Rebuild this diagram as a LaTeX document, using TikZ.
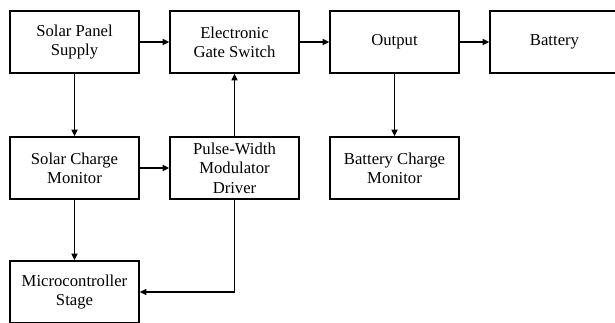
\documentclass[tikz,border=0pt]{standalone}
\usepackage{fontspec}
\setmainfont{Liberation Serif}
\newfontfamily\boxfont{Liberation Serif}
\usepackage{tikz}
\usetikzlibrary{arrows.meta,positioning}

\begin{document}
\begin{tikzpicture}[node distance=120pt, auto,
    block/.style={rectangle, draw, line width=1pt, minimum width=96.75pt,
        minimum height=46.5pt, align=center, inner sep=2pt,
        font=\boxfont\fontsize{12.5pt}{14.5pt}\selectfont},
    line/.style={draw, line width=1pt, -{Triangle[length=5pt,width=4.5pt]}}
    ]
    \useasboundingbox (-55.875pt,31.5pt) rectangle (405.375pt,-210pt);

    % Nodes
    \node [block] (sps) at (0,0) {Solar Panel\\Supply};
    \node [block, right of=sps] (egs) {Electronic\\Gate Switch};
    \node [block, right of=egs] (out) {Output};
    \node [block, right of=out] (bat) {Battery};
    \node [block, below of=sps, node distance=94.5pt] (scm) {Solar Charge\\Monitor};
    \node [block, right of=scm] (pwm) {Pulse-Width\\Modulator\\Driver};
    \node [block, below of=out, node distance=94.5pt] (bcm) {Battery Charge\\Monitor};
    \node [block, below of=scm, node distance=93pt] (mcs) {Microcontroller\\Stage};

    % Paths
    \draw[line] (sps) -- (egs);
    \draw[line] (egs) -- (out);
    \draw[line] (out) -- (bat);
    \draw[line] (sps) -- (scm);
    \draw[line] (scm) -- (pwm);
    \draw[line] (pwm) -- (egs);
    \draw[line] (out) -- (bcm);
    \draw[line] (scm) -- (mcs);
    \draw[line] (pwm.south) |- (mcs.east);
\end{tikzpicture}
\end{document}
